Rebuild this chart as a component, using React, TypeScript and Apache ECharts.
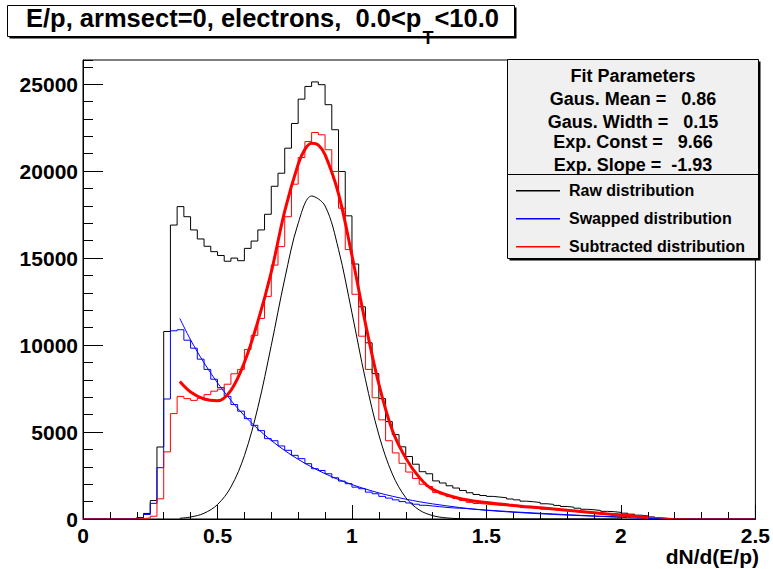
import React, { useEffect, useRef } from "react";
import * as echarts from "echarts";

const FONT = '"Liberation Sans", Arial, Helvetica, sans-serif';
const BIN_WIDTH = 0.025;

// Histogram contents per bin (bin low edges 0, 0.025, ..., 2.475)
const rawCounts = [
  0, 0, 0, 0, 0, 0, 0, 0,
  80, 320, 1060, 4140, 10780, 16900, 17960, 17380, 16620, 16100,
  15680, 15370, 15150, 14820, 15000, 14850, 15560, 15980, 16620, 17520,
  19130, 19880, 21320, 22740, 24140, 24870, 25130, 24970, 23820, 22380,
  19980, 17430, 14660, 12200, 10130, 8360, 6920, 5600, 4850, 4150,
  3590, 3150, 2720, 2600, 2190, 2070, 1910, 1780, 1640, 1510,
  1410, 1350, 1300, 1260, 1220, 1150, 1100, 1025, 990, 950,
  875, 840, 780, 720, 680, 620, 560, 530, 490, 440,
  420, 380, 335, 280, 220, 180, 120, 70, 40, 20, 10,
  0, 0, 0, 0, 0, 0, 0, 0, 0, 0, 0,
];

const swappedCounts = [
  0, 0, 0, 0, 0, 0, 0, 0,
  60, 260, 900, 2950, 6900, 10820, 10880, 10280, 9820, 9190,
  8600, 8035, 7550, 7050, 6580, 6200, 5770, 5385, 5080, 4620,
  4500, 4200, 3950, 3660, 3470, 3180, 2890, 2790, 2600, 2370,
  2180, 2030, 1830, 1740, 1545, 1450, 1300, 1200, 1100, 1000,
  920, 850, 790, 750, 710, 670, 640, 620, 600, 570,
  540, 510, 490, 460, 440, 410, 390, 370, 350, 330,
  310, 290, 270, 250, 230, 210, 190, 170, 150, 130,
  110, 95, 80, 60, 45, 35, 25, 15, 10, 5, 0,
  0, 0, 0, 0, 0, 0, 0, 0, 0, 0, 0,
];

const subtractedCounts = [
  0, 0, 0, 0, 0, 0, 0, 0,
  20, 60, 160, 1160, 3860, 6060, 7050, 6920, 6820, 6940,
  7150, 7350, 7460, 7750, 8350, 8600, 9750, 10560, 11530, 12800,
  14600, 15660, 17380, 19250, 20780, 21700, 22220, 22090, 21230, 19980,
  17870, 15490, 12920, 10510, 8600, 6970, 5700, 4500, 3800, 3200,
  2700, 2330, 2000, 1870, 1520, 1440, 1290, 1180, 1060, 960,
  890, 860, 820, 800, 780, 740, 710, 655, 640, 620,
  565, 550, 510, 470, 450, 410, 370, 360, 340, 310,
  310, 285, 255, 220, 175, 145, 95, 55, 30, 15, 10,
  0, 0, 0, 0, 0, 0, 0, 0, 0, 0, 0,
];

// Fit curves
const gausFitX = [0.36, 0.4, 0.45, 0.5, 0.55, 0.6, 0.65, 0.7, 0.75, 0.8, 0.85, 0.9, 0.95, 1.0, 1.05, 1.1, 1.15, 1.2, 1.25, 1.3, 1.35, 1.4, 1.45, 1.5, 1.75, 2.0];
const gausFitY = [45, 115, 330, 830, 1840, 3640, 6400, 9980, 13800, 17000, 18570, 18000, 15500, 11850, 8030, 4840, 2590, 1230, 520, 195, 65, 20, 5, 0, 0, 0];

const expFitX = [0.36, 0.4, 0.45, 0.5, 0.55, 0.6, 0.65, 0.7, 0.75, 0.8, 0.85, 0.9, 0.95, 1.0, 1.05, 1.1, 1.15, 1.2, 1.25, 1.3, 1.4, 1.5, 1.6, 1.7, 1.8, 1.9, 2.0];
const expFitY = [11530, 10300, 8980, 7830, 6820, 5940, 5180, 4515, 3935, 3430, 2990, 2605, 2270, 1980, 1725, 1500, 1310, 1140, 995, 870, 660, 500, 390, 300, 225, 165, 125];

const totalFitX = [0.36, 0.4, 0.45, 0.5, 0.55, 0.6, 0.65, 0.7, 0.75, 0.8, 0.825, 0.85, 0.875, 0.9, 0.95, 1.0, 1.05, 1.1, 1.15, 1.2, 1.25, 1.3, 1.4, 1.5, 1.6, 1.7, 1.8, 1.9, 2.0, 2.1];
const totalFitY = [7900, 7300, 6900, 6800, 7400, 9000, 11350, 14200, 17700, 20400, 21250, 21600, 21500, 20950, 18700, 15150, 11250, 7750, 5100, 3500, 2400, 1700, 1180, 950, 780, 640, 500, 360, 220, 90];

const titleMain = "E/p, armsect=0, electrons,  0.0<p";
const titleSub = "T";
const titleTail = "<10.0";
const statsHeader = "Fit Parameters";
const fitParamLines = [
  "Gaus. Mean =   0.86",
  "Gaus. Width =   0.15",
  "Exp. Const =   9.66",
  "Exp. Slope =  -1.93",
];
const legendNames = ["Raw distribution", "Swapped distribution", "Subtracted distribution"];
const legendColors = ["#000000", "#0000ff", "#ff0000"];
const xAxisTitle = "dN/d(E/p)";

const nb = (s: string) => s.replace(/ /g, "\u00a0");

function histData(counts: number[]) {
  const pts = counts.map((v, i) => [+(i * BIN_WIDTH).toFixed(4), v]);
  pts.push([+(counts.length * BIN_WIDTH).toFixed(4), counts[counts.length - 1]]);
  return pts;
}

function curveData(xs: number[], ys: number[]) {
  return xs.map((x, i) => [x, ys[i]]);
}

export default function App() {
  const ref = useRef<HTMLDivElement>(null);

  useEffect(() => {
    if (!ref.current) return;
    const chart = echarts.init(ref.current, undefined, { renderer: "svg" });

    const TITLE_SIZE = 25.5;
    const SUB_SIZE = 18;
    const ctx = document.createElement("canvas").getContext("2d")!;
    ctx.font = `bold ${TITLE_SIZE}px ${FONT}`;
    const wMain = ctx.measureText(nb(titleMain)).width;
    ctx.font = `bold ${SUB_SIZE}px ${FONT}`;
    const wSub = ctx.measureText(titleSub).width;
    const titleX = 26;

    let uid = 0;
    const txt = (x: number, y: number, text: string, size: number, align = "left") => ({
      type: "text",
      id: "t" + uid++,
      x,
      y,
      z: 20,
      silent: true,
      style: {
        text: nb(text),
        fill: "#000",
        fontSize: size,
        fontWeight: "bold",
        fontFamily: FONT,
        align,
        verticalAlign: "middle",
        textAlign: align,
        textVerticalAlign: "middle",
      },
    });

    const statsY = [98.5, 121.5, 142, 164.5];
    const legendY = [190.5, 218.5, 246.5];

    const legendLines = legendColors.map((c, i) => ({
      type: "rect",
      id: "legline" + i,
      z: 21,
      silent: true,
      shape: { x: 516, y: legendY[i] - 0.5, width: 44, height: 1.5 },
      style: { fill: c },
    }));

    const graphic: any[] = [
      // title box
      { type: "rect", id: "tshadow", z: 18, silent: true, shape: { x: 9.5, y: 7.5, width: 507, height: 31 }, style: { fill: "#000" } },
      { type: "rect", id: "tbox", z: 19, silent: true, shape: { x: 7.5, y: 5.5, width: 507, height: 31 }, style: { fill: "#fff", stroke: "#000", lineWidth: 1 } },
      txt(titleX, 18, titleMain, TITLE_SIZE),
      txt(titleX + wMain + 1, 38, titleSub, SUB_SIZE),
      txt(titleX + wMain + wSub + 2, 18, titleTail, TITLE_SIZE),
      // stats / legend box
      { type: "rect", id: "sshadow", z: 18, silent: true, shape: { x: 509.5, y: 61.5, width: 251, height: 199 }, style: { fill: "#000" } },
      { type: "rect", id: "sbox", z: 19, silent: true, shape: { x: 507.5, y: 59.5, width: 251, height: 199 }, style: { fill: "#f0f0f0", stroke: "#000", lineWidth: 1 } },
      { type: "rect", id: "ssep", z: 20, silent: true, shape: { x: 507.5, y: 174, width: 251, height: 1 }, style: { fill: "#000" } },
      txt(633, 75.5, statsHeader, 18, "center"),
      ...fitParamLines.map((s, i) => txt(633, statsY[i], s, 18, "center")),
      ...legendNames.map((s, i) => txt(569, legendY[i], s, 16, "left")),
      ...legendLines,
      txt(759, 556, xAxisTitle, 21, "right"),
    ];

    const stepSeries = (name: string, counts: number[], color: string) => ({
      type: "line",
      name,
      data: histData(counts),
      step: "end",
      symbol: "none",
      silent: true,
      lineStyle: { color, width: 1 },
      itemStyle: { color },
      z: 2,
    });

    const fitSeries = (name: string, xs: number[], ys: number[], color: string, width: number) => ({
      type: "line",
      name,
      data: curveData(xs, ys),
      smooth: 0.35,
      symbol: "none",
      silent: true,
      lineStyle: { color, width },
      itemStyle: { color },
      z: 3,
    });

    const labelStyle = { fontSize: 21, fontWeight: "bold", fontFamily: FONT, color: "#000" };

    chart.setOption({
      animation: false,
      backgroundColor: "#fff",
      grid: { left: 83, top: 60, right: 13, bottom: 50, show: true, borderColor: "#000", borderWidth: 1, backgroundColor: "transparent" },
      xAxis: {
        type: "value",
        min: 0,
        max: 2.5,
        interval: 0.5,
        axisLine: { show: true, onZero: false, lineStyle: { color: "#000", width: 1 } },
        axisTick: { show: true, inside: true, length: 14, lineStyle: { color: "#000" } },
        minorTick: { show: true, splitNumber: 5, length: 7, lineStyle: { color: "#000" } },
        splitLine: { show: false },
        axisLabel: { ...labelStyle, margin: 6, formatter: (v: number) => String(v) },
      },
      yAxis: [
        {
          type: "value",
          min: 0,
          max: 26390,
          interval: 5000,
          position: "left",
          axisLine: { show: true, onZero: false, lineStyle: { color: "#000", width: 1 } },
          axisTick: { show: true, inside: true, length: 20, lineStyle: { color: "#000" } },
          splitLine: { show: false },
          axisLabel: { ...labelStyle, margin: 5, showMaxLabel: false, formatter: (v: number) => String(v) },
        },
        {
          type: "value",
          min: 0,
          max: 26390,
          interval: 1000,
          position: "left",
          axisLine: { show: false },
          axisTick: { show: true, inside: true, length: 10, lineStyle: { color: "#000" } },
          splitLine: { show: false },
          axisLabel: { show: false },
        },
      ],
      series: [
        stepSeries(legendNames[0], rawCounts, "#000000"),
        stepSeries(legendNames[1], swappedCounts, "#0000ff"),
        stepSeries(legendNames[2], subtractedCounts, "#ff0000"),
        fitSeries("Gaussian fit", gausFitX, gausFitY, "#000000", 1),
        fitSeries("Exponential fit", expFitX, expFitY, "#0000ff", 1),
        fitSeries("Total fit", totalFitX, totalFitY, "#ff0000", 3),
      ],
      graphic,
    });

    return () => chart.dispose();
  }, []);

  return (
    <div
      ref={ref}
      style={{ position: "fixed", left: 0, top: 0, width: 773, height: 569, background: "#fff" }}
    />
  );
}
